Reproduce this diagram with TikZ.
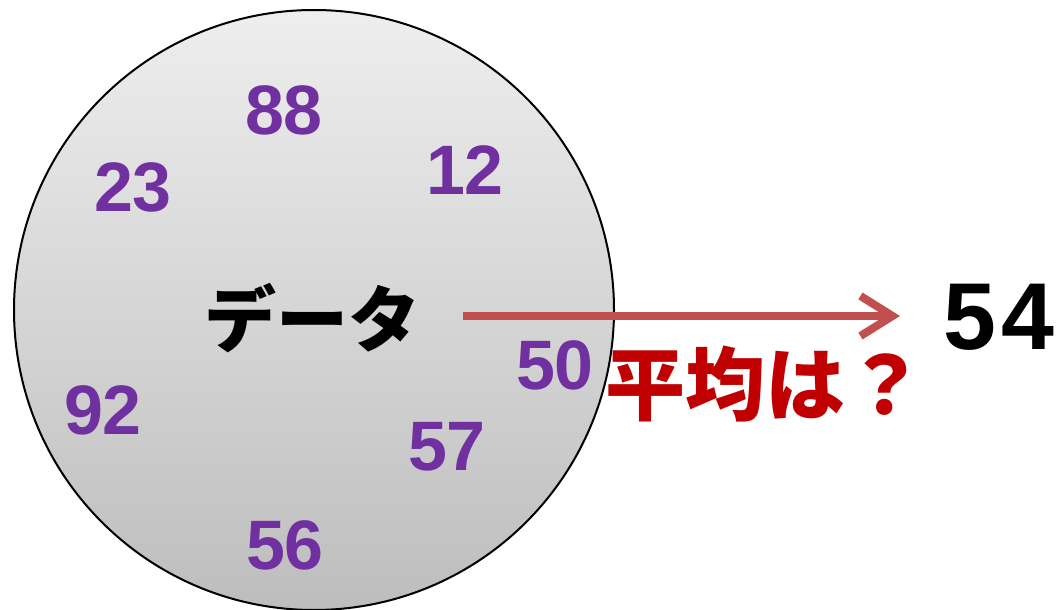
\documentclass[tikz,border=0pt]{standalone}
\usepackage{fontspec}
\setmainfont{Liberation Sans}
\newfontfamily\jp{Noto Sans CJK JP}
\newfontfamily\wide{Liberation Sans}[LetterSpace=6]
\usetikzlibrary{arrows.meta}
\definecolor{numpurple}{HTML}{7030A0}
\definecolor{qred}{HTML}{C00000}
\definecolor{arrowred}{HTML}{C0504D}
\definecolor{shadetop}{HTML}{EEEEEE}
\definecolor{shadebot}{HTML}{BDBDBD}
\tikzset{
  num/.style={inner sep=0pt, text=numpurple, font=\fontsize{70}{70}\selectfont\bfseries},
  jptext/.style={inner sep=0pt, font=\jp\bfseries\fontsize{72}{72}\selectfont},
  avgarrow/.style={draw=arrowred, line width=8pt, -{Straight Barb[length=32pt,width=40pt,line width=8pt]}},
}
\begin{document}
\begin{tikzpicture}[x=1pt,y=-1pt]
\useasboundingbox (0,0) rectangle (1061,610);
\node[circle, draw=black, line width=2pt, minimum size=600pt, inner sep=0pt,
      top color=shadetop, bottom color=shadebot] (data) at (314,310) {};
\node[jptext, text=black] (label) at (312,318) {データ};
\node[num] (n88) at (284,110) {88};
\node[num] (n23) at (133,187) {23};
\node[num] (n12) at (465,170) {12};
\node[num] (n50) at (555,365) {50};
\node[num] (n92) at (103,410) {92};
\node[num] (n57) at (447,447) {57};
\node[num] (n56) at (285,545) {56};
\node[jptext, text=qred, font=\jp\bfseries\fontsize{80}{80}\selectfont] (q) at (765,384) {平均は？};
\node[inner sep=0pt, font=\wide\fontsize{95}{95}\selectfont\bfseries] (ans) at (999,317) {54};
\coordinate (astart) at (463,316);
\coordinate (aend) at (900,316);
\draw[avgarrow] (astart) -- (aend);
\end{tikzpicture}
\end{document}
